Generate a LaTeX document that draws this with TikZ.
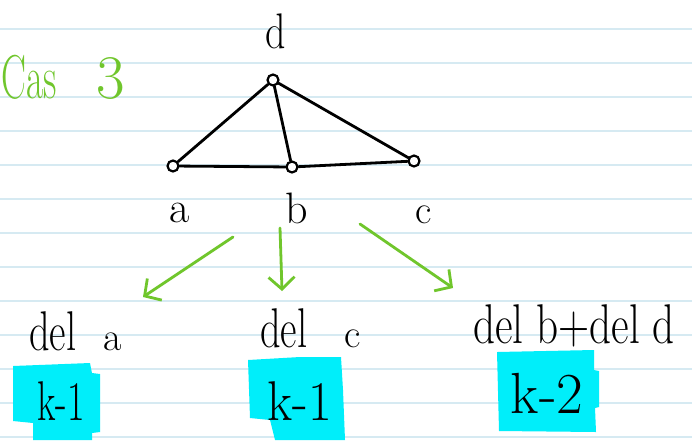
\documentclass[tikz,border=0pt]{standalone}
\usetikzlibrary{arrows.meta}
\definecolor{ruleblue}{RGB}{214,234,242}
\definecolor{pengreen}{RGB}{112,198,44}
\definecolor{hlcyan}{RGB}{0,238,250}
\newcommand{\hwsize}[1]{\fontsize{#1}{#1}\selectfont}
\begin{document}
\begin{tikzpicture}[x=1pt,y=-1pt,
  vtx/.style={circle,draw,line width=2.2pt,fill=white,inner sep=0pt,minimum size=11pt},
  edge/.style={line width=2.8pt,line cap=round},
  garrow/.style={pengreen,line width=2.8pt,line cap=round,-{Straight Barb[length=12pt,width=26pt]}},
  lbl/.style={inner sep=0pt,anchor=base},
  lblw/.style={inner sep=0pt,anchor=base west},
  hl/.style={fill=hlcyan}]
\fill[white] (0,0) rectangle (692,440);
\useasboundingbox (0,0) rectangle (692,440);
\foreach \k in {0,...,12} \draw[ruleblue,line width=1.3pt] (0,29+34*\k) -- (692,29+34*\k);
% highlights
\fill[hl] (13,366) -- (90,363) -- (92,373) -- (100,374) -- (100,432) -- (92,433) -- (92,440) -- (33,440) -- (33,423) -- (13,421) -- cycle;
\fill[hl] (248,360) -- (300,357) -- (341,357) -- (343,390) -- (345,440) -- (275,440) -- (270,420) -- (250,418) -- cycle;
\fill[hl] (497,352) -- (594,350) -- (594,370) -- (599,371) -- (599,407) -- (595,408) -- (596,432) -- (499,431) -- cycle;
% title
\node[lblw,pengreen] (title) at (1,98) {\hwsize{62}\scalebox{0.6}[1]{Cas}\hspace{40pt}3};
% graph
\node[vtx] (d) at (273,80) {};
\node[vtx] (a) at (173,166) {};
\node[vtx] (b) at (292,167) {};
\node[vtx] (c) at (414,161) {};
\draw[edge] (d) -- (a);
\draw[edge] (d) -- (b);
\draw[edge] (d) -- (c);
\draw[edge] (a) -- (b);
\draw[edge] (b) -- (c);
\node[lbl] (ld) at (276,48) {\hwsize{50}\scalebox{0.8}[1]{d}};
\node[lbl] (la) at (180,222) {\hwsize{44}a};
\node[lbl] (lb) at (297,223) {\hwsize{44}b};
\node[lbl] (lc) at (424,223) {\hwsize{40}c};
% arrows
\coordinate (s1) at (233,237); \coordinate (t1) at (143,297);
\coordinate (s2) at (280,228); \coordinate (t2) at (282,291);
\coordinate (s3) at (360,224); \coordinate (t3) at (453,288);
\draw[garrow] (s1) -- (t1);
\draw[garrow] (s2) -- (t2);
\draw[garrow] (s3) -- (t3);
% results
\node[lblw] (r1) at (29,350) {\hwsize{56}\scalebox{0.72}[1]{del}\hspace{27pt}{\hwsize{40}a}};
\node[lblw] (r2) at (260,347) {\hwsize{56}\scalebox{0.72}[1]{del}\hspace{37pt}{\hwsize{40}c}};
\node[lblw] (r3) at (473,343) {\hwsize{56}\scalebox{0.77}[1]{del b+del d}};
\node[lbl] (k1) at (61,420) {\hwsize{56}\scalebox{0.68}[1]{k-1}};
\node[lbl] (k2) at (300,420) {\hwsize{56}\scalebox{0.92}[1]{k-1}};
\node[lbl] (k3) at (547,413) {\hwsize{58}\scalebox{1.0}[1]{k-2}};
\end{tikzpicture}
\end{document}
